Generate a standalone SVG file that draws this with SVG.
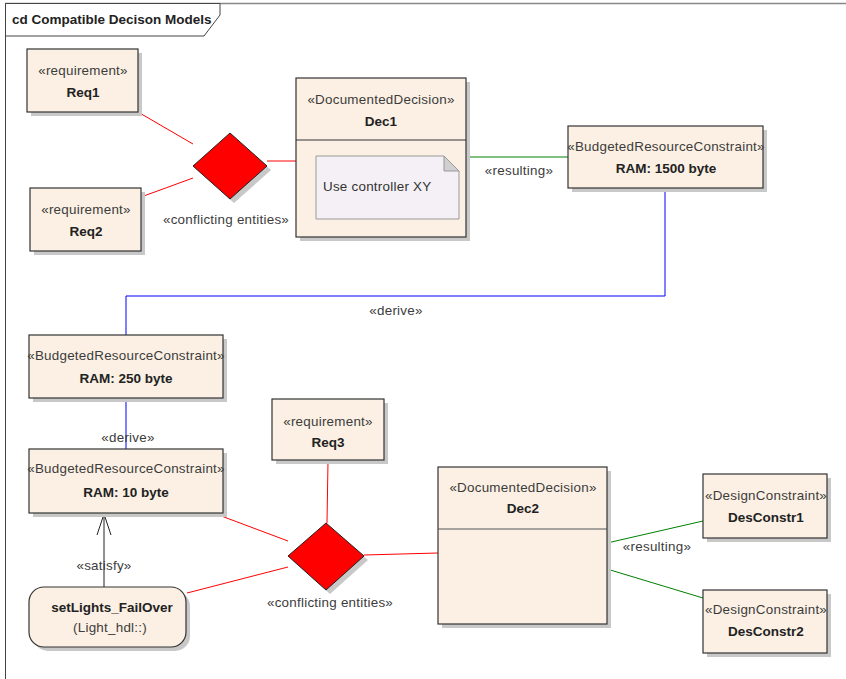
<svg xmlns="http://www.w3.org/2000/svg" width="846" height="679" viewBox="0 0 846 679">
<style>
.box{fill:#fbf0e3;stroke:#333;stroke-width:1.2}
.sh{fill:#c8c8c8}
.st{font-family:"Liberation Sans",Arial,sans-serif;font-size:13.4px;letter-spacing:0.25px;fill:#3c3c3c;text-anchor:middle}
.nm{font-family:"Liberation Sans",Arial,sans-serif;font-size:13.5px;font-weight:bold;fill:#222;text-anchor:middle}
.lbl{font-family:"Liberation Sans",Arial,sans-serif;font-size:13.4px;letter-spacing:0.25px;fill:#3c3c3c;text-anchor:middle}
.red{stroke:#ff0000;stroke-width:1;fill:none}
.grn{stroke:#008000;stroke-width:1;fill:none}
.blu{stroke:#0000ff;stroke-width:1;fill:none}
.blk{stroke:#222;stroke-width:1;fill:none}
.dia{fill:#ff0000;stroke:#222;stroke-width:1}
</style>
<rect width="846" height="679" fill="#ffffff"/>
<g id="frame">
<line x1="5" y1="3.5" x2="846" y2="3.5" stroke="#888" stroke-width="1.5"/>
<line x1="5.5" y1="3" x2="5.5" y2="679" stroke="#444" stroke-width="1"/>
<polygon points="5.5,3.5 220,3.5 220,15 204,36 5.5,36" fill="#fff" stroke="#444" stroke-width="1"/>
<text x="12" y="24" font-family="Liberation Sans,Arial,sans-serif" font-size="13.5" font-weight="bold" fill="#222">cd Compatible Decison Models</text>
</g>
<g id="connectors">
<line class="red" x1="138" y1="112" x2="193" y2="144"/>
<line class="red" x1="141" y1="197" x2="193" y2="178"/>
<line class="red" x1="267" y1="161" x2="296" y2="161"/>
<line class="grn" x1="466" y1="157" x2="568" y2="157"/>
<text class="lbl" x="519" y="175">«resulting»</text>
<polyline class="blu" points="665,188 665,296 126,296 126,335"/>
<text class="lbl" x="396" y="315">«derive»</text>
<line class="blu" x1="126" y1="398" x2="126" y2="449"/>
<text class="lbl" x="128" y="442">«derive»</text>
<line class="blk" x1="104" y1="587" x2="104" y2="514"/>
<polyline class="blk" points="97,535 104,514 111,535"/>
<text class="lbl" x="104" y="570">«satisfy»</text>
<line class="red" x1="208" y1="511" x2="288" y2="541"/>
<line class="red" x1="187" y1="593" x2="288" y2="567"/>
<line class="red" x1="328" y1="461" x2="327" y2="523"/>
<line class="red" x1="364" y1="555" x2="438" y2="553"/>
<line class="grn" x1="607" y1="543" x2="703" y2="521"/>
<line class="grn" x1="607" y1="569" x2="703" y2="598"/>
<text class="lbl" x="657" y="551">«resulting»</text>
</g>
<g id="req1">
<rect class="sh" x="31" y="53" width="111" height="63"/>
<rect class="box" x="27" y="49" width="111" height="63"/>
<text class="st" x="83" y="75">«requirement»</text>
<text class="nm" x="83" y="97">Req1</text>
</g>
<g id="req2">
<rect class="sh" x="34" y="192" width="111" height="63"/>
<rect class="box" x="30" y="188" width="111" height="63"/>
<text class="st" x="86" y="214">«requirement»</text>
<text class="nm" x="86" y="236">Req2</text>
</g>
<g id="conflict1">
<polygon class="sh" points="197,170 234,137 271,170 234,203"/>
<polygon class="dia" points="193,166 230,133 267,166 230,199"/>
<text class="lbl" x="226" y="224">«conflicting entities»</text>
</g>
<g id="dec1">
<rect class="sh" x="300" y="82" width="170" height="159"/>
<rect class="box" x="296" y="78" width="170" height="159"/>
<line x1="296" y1="140" x2="466" y2="140" stroke="#333" stroke-width="1.2"/>
<text class="st" x="381" y="104">«DocumentedDecision»</text>
<text class="nm" x="381" y="126">Dec1</text>
<polygon points="316,156 444,156 459,171 459,219 316,219" fill="#f4f0f5" stroke="#999" stroke-width="1"/>
<polygon points="444,156 444,171 459,171" fill="#d0d0d0" stroke="#999" stroke-width="1"/>
<text x="323" y="191" font-family="Liberation Sans,Arial,sans-serif" font-size="13.4" letter-spacing="0.25" fill="#333">Use controller XY</text>
</g>
<g id="ram1500">
<rect class="sh" x="572" y="130" width="195" height="62"/>
<rect class="box" x="568" y="126" width="195" height="62"/>
<text class="st" x="666" y="151">«BudgetedResourceConstraint»</text>
<text class="nm" x="666" y="173">RAM: 1500 byte</text>
</g>
<g id="ram250">
<rect class="sh" x="33" y="339" width="194" height="63"/>
<rect class="box" x="29" y="335" width="194" height="63"/>
<text class="st" x="126" y="360">«BudgetedResourceConstraint»</text>
<text class="nm" x="126" y="383">RAM: 250 byte</text>
</g>
<g id="ram10">
<rect class="sh" x="33" y="453" width="194" height="64"/>
<rect class="box" x="29" y="449" width="194" height="64"/>
<text class="st" x="126" y="473">«BudgetedResourceConstraint»</text>
<text class="nm" x="126" y="497">RAM: 10 byte</text>
</g>
<g id="setLights">
<rect class="sh" x="33" y="591" width="157" height="60" rx="15"/>
<rect class="box" x="29" y="587" width="157" height="60" rx="15"/>
<text class="nm" x="112" y="612">setLights_FailOver</text>
<text class="st" x="110" y="632">(Light_hdl::)</text>
</g>
<g id="req3">
<rect class="sh" x="276" y="403" width="112" height="61"/>
<rect class="box" x="272" y="399" width="112" height="61"/>
<text class="st" x="328" y="426">«requirement»</text>
<text class="nm" x="328" y="447">Req3</text>
</g>
<g id="conflict2">
<polygon class="sh" points="292,560 330,527 368,560 330,594"/>
<polygon class="dia" points="288,556 326,523 364,556 326,590"/>
<text class="lbl" x="330" y="607">«conflicting entities»</text>
</g>
<g id="dec2">
<rect class="sh" x="442" y="471" width="169" height="157"/>
<rect class="box" x="438" y="467" width="169" height="157"/>
<line x1="438" y1="529" x2="607" y2="529" stroke="#555" stroke-width="1.2"/>
<text class="st" x="523" y="492">«DocumentedDecision»</text>
<text class="nm" x="523" y="513">Dec2</text>
</g>
<g id="desConstr1">
<rect class="sh" x="707" y="478" width="124" height="64"/>
<rect class="box" x="703" y="474" width="124" height="64"/>
<text class="st" x="766" y="500">«DesignConstraint»</text>
<text class="nm" x="766" y="522">DesConstr1</text>
</g>
<g id="desConstr2">
<rect class="sh" x="707" y="594" width="124" height="63"/>
<rect class="box" x="703" y="590" width="124" height="63"/>
<text class="st" x="766" y="614">«DesignConstraint»</text>
<text class="nm" x="766" y="636">DesConstr2</text>
</g>
</svg>
